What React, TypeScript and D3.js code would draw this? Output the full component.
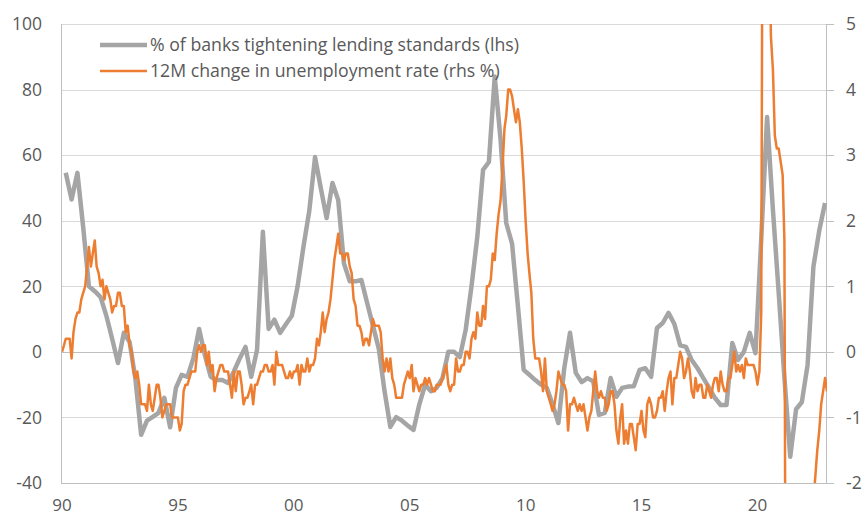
import React from "react";
import * as d3 from "d3";

// ---- DATA ----
// % of banks tightening lending standards (lhs), quarterly, first point Mar 1990
const grayStart = { year: 1990, month: 2 };
const grayValues: number[] = [
  54.6, 46.5, 54.6, 38, 20, 18.5, 16.7, 11, 4, -3.4,
  5.8, 3, -8, -25.3, -21, -19.8, -18.6, -14, -23, -11,
  -7, -7.6, -2, 7, -1, -7.6, -8.6, -8.6, -9.5, -6,
  -2, 1.5, -7.6, 0.6, 36.6, 7, 9.8, 5.8, 8.5, 11,
  20, 32, 43, 59.4, 50, 40.8, 51.5, 46.3, 27, 21.5,
  21.5, 21.9, 15, 8, 1, -12, -22.9, -19.9, -21, -22.5,
  -23.8, -16, -10, -12, -11, -8, 0, 0, -1.6, 6.7,
  20, 35, 55.5, 57.9, 84, 65, 39.3, 33, 14, -5.5,
  -7, -8.6, -10, -11, -16, -21.7, -5, 5.8, -6.4, -9.2,
  -8, -9, -19.2, -18.6, -8, -13.7, -11, -10.6, -10.5, -5.5,
  -5, -7.6, 7.3, 8.8, 11.9, 8.5, 2, 1.5, -2.5, -5,
  -8, -11, -14, -16.2, -16.2, 2.7, -2.5, 0, 5.8, -0.4,
  34.5, 71.6, 43.3, 18, -7.8, -32, -17.5, -15.3, -4, 26,
  37, 45.4,
];

// 12M change in unemployment rate (rhs %), monthly from Jan 1990
const orangeStart = { year: 1990, month: 0 };
const orangeValues: number[] = [
  0.0, 0.1, 0.2, 0.2, 0.2, -0.1, 0.3, 0.5, 0.6, 0.6, 0.8, 0.9,
  1.0, 1.3, 1.6, 1.3, 1.5, 1.7, 1.3, 1.2, 1.0, 1.1, 0.8, 1.0,
  0.9, 0.8, 0.6, 0.7, 0.7, 0.9, 0.9, 0.7, 0.7, 0.3, 0.4, 0.1,
  0.0, -0.3, -0.4, -0.3, -0.5, -0.8, -0.8, -0.8, -0.9, -0.5, -0.8, -0.9,
  -0.7, -0.5, -0.5, -0.7, -1.0, -0.9, -0.8, -0.8, -0.8, -1.0, -1.0, -1.0,
  -1.0, -1.2, -1.1, -0.6, -0.5, -0.5, -0.4, -0.3, -0.3, -0.3, 0.0, 0.1,
  0.0, 0.1, 0.1, -0.2, 0.0, -0.3, -0.2, -0.6, -0.4, -0.3, -0.2, -0.2,
  -0.3, -0.3, -0.3, -0.5, -0.7, -0.3, -0.6, -0.3, -0.3, -0.5, -0.8, -0.7,
  -0.7, -0.6, -0.5, -0.8, -0.5, -0.5, -0.4, -0.3, -0.3, -0.2, -0.2, -0.3,
  -0.3, -0.2, -0.5, 0.0, -0.2, -0.2, -0.2, -0.3, -0.4, -0.4, -0.3, -0.4,
  -0.3, -0.3, -0.2, -0.5, -0.2, -0.3, -0.3, -0.1, -0.3, -0.2, -0.2, -0.1,
  0.2, 0.1, 0.3, 0.6, 0.3, 0.5, 0.6, 0.8, 1.1, 1.4, 1.6, 1.8,
  1.5, 1.5, 1.4, 1.5, 1.5, 1.3, 1.2, 0.8, 0.7, 0.4, 0.4, 0.3,
  0.1, 0.2, 0.2, 0.1, 0.3, 0.5, 0.4, 0.4, 0.4, 0.3, -0.1, -0.3,
  -0.1, -0.3, -0.1, -0.4, -0.5, -0.7, -0.7, -0.7, -0.7, -0.5, -0.4, -0.3,
  -0.4, -0.2, -0.6, -0.4, -0.5, -0.6, -0.5, -0.5, -0.4, -0.5, -0.4, -0.5,
  -0.6, -0.6, -0.5, -0.5, -0.5, -0.4, -0.3, -0.2, -0.5, -0.6, -0.5, -0.5,
  -0.1, -0.3, -0.3, -0.2, -0.2, 0.0, 0.0, -0.1, 0.2, 0.3, 0.2, 0.6,
  0.4, 0.4, 0.7, 0.5, 1.0, 1.0, 1.1, 1.5, 1.4, 1.8, 2.1, 2.3,
  2.8, 3.4, 3.6, 4.0, 4.0, 3.9, 3.7, 3.5, 3.7, 3.5, 3.1, 2.6,
  2.0, 1.5, 1.2, 0.9, 0.2, -0.1, -0.1, -0.1, -0.3, -0.6, -0.1, -0.6,
  -0.7, -0.8, -0.9, -0.8, -0.6, -0.3, -0.4, -0.5, -0.5, -0.6, -1.2, -0.8,
  -0.8, -0.7, -0.8, -0.9, -0.8, -0.9, -0.8, -1.0, -1.2, -1.0, -0.9, -0.6,
  -0.3, -0.6, -0.7, -0.6, -0.7, -0.7, -0.9, -0.8, -0.6, -0.6, -0.8, -1.2,
  -1.4, -1.0, -0.8, -1.4, -1.2, -1.4, -1.1, -1.1, -1.3, -1.5, -1.1, -1.1,
  -0.9, -1.2, -1.3, -0.8, -0.7, -0.8, -1.0, -1.0, -0.9, -0.7, -0.7, -0.6,
  -0.9, -0.6, -0.4, -0.3, -0.8, -0.4, -0.4, -0.2, 0.0, -0.1, -0.4, -0.3,
  -0.1, -0.3, -0.6, -0.7, -0.4, -0.6, -0.5, -0.5, -0.7, -0.7, -0.5, -0.6,
  -0.7, -0.5, -0.4, -0.4, -0.6, -0.3, -0.5, -0.6, -0.6, -0.4, -0.4, -0.2,
  0.0, -0.3, -0.2, -0.3, -0.2, -0.4, -0.1, -0.2, -0.2, -0.2, -0.2, -0.3,
  -0.5, -0.3, 0.6, 11.0, 9.6, 7.4, 6.5, 4.8, 4.3, 3.3, 3.1, 3.1,
  2.9, 2.7, 1.7, -8.6, -7.4, -5.1, -4.8, -3.2, -3.1, -2.4, -2.5, -2.8,
  -2.4, -2.4, -2.5, -2.5, -2.2, -2.3, -1.9, -1.5, -1.2, -0.8, -0.6, -0.4,
  -0.6,
];

const leftTicks = [-40, -20, 0, 20, 40, 60, 80, 100];
const rightTicks = [-2, -1, 0, 1, 2, 3, 4, 5];
const xTickYears = [1990, 1995, 2000, 2005, 2010, 2015, 2020];
const legendLabels = [
  "% of banks tightening lending standards (lhs)",
  "12M change in unemployment rate (rhs %)",
];

// ---- CHART ----
const W = 863;
const H = 516;
const L = 62;
const R = 827;
const T = 24;
const B = 483;
const GRAY = "#a5a5a5";
const ORANGE = "#ed7d31";
const TEXT = "#595959";
const FONT = "'Open Sans', sans-serif";

export default function App() {
  const x = d3
    .scaleTime()
    .domain([new Date(1990, 0, 1), new Date(2023, 0, 1)])
    .range([L, R]);
  const yL = d3.scaleLinear().domain([-40, 100]).range([B, T]);
  const yR = d3.scaleLinear().domain([-2, 5]).range([B, T]);

  const grayData = grayValues.map((v, i) => ({
    d: new Date(grayStart.year, grayStart.month + 3 * i, 1),
    v,
  }));
  const orangeData = orangeValues.map((v, i) => ({
    d: new Date(orangeStart.year, orangeStart.month + i, 1),
    v,
  }));

  const grayLine = d3
    .line<{ d: Date; v: number }>()
    .x((p) => x(p.d))
    .y((p) => yL(p.v));
  const orangeLine = d3
    .line<{ d: Date; v: number }>()
    .x((p) => x(p.d))
    .y((p) => yR(p.v));

  const snap = (v: number) => Math.round(v) + 0.5;

  return (
    <svg
      width={W}
      height={H}
      style={{ position: "absolute", left: 0, top: 0, background: "#fff" }}
      fontFamily={FONT}
    >
      <defs>
        <clipPath id="plot">
          <rect x={L} y={T} width={R - L} height={B - T} />
        </clipPath>
      </defs>
      <rect x={0} y={0} width={W} height={H} fill="#fff" />
      {/* gridlines */}
      {leftTicks.map((t) => (
        <line
          key={"g" + t}
          x1={L}
          x2={R}
          y1={snap(yL(t))}
          y2={snap(yL(t))}
          stroke={t === 0 ? "#bfbfbf" : "#d9d9d9"}
          strokeWidth={1}
        />
      ))}
      {/* axes */}
      <line x1={snap(L - 1)} x2={snap(L - 1)} y1={T} y2={B + 1} stroke="#bfbfbf" />
      <line x1={snap(R - 1)} x2={snap(R - 1)} y1={T} y2={B + 1} stroke="#bfbfbf" />
      <line x1={L} x2={R} y1={snap(B)} y2={snap(B)} stroke="#bfbfbf" />
      {rightTicks.map((t) => (
        <line
          key={"rt" + t}
          x1={R}
          x2={R + 7}
          y1={snap(yR(t))}
          y2={snap(yR(t))}
          stroke="#bfbfbf"
        />
      ))}
      {/* tick labels */}
      {leftTicks.map((t) => (
        <text
          key={"lt" + t}
          x={42}
          y={yL(t)}
          dy="0.36em"
          textAnchor="end"
          fontSize={17.5}
          fill={TEXT}
        >
          {t}
        </text>
      ))}
      {rightTicks.map((t) => (
        <text
          key={"rl" + t}
          x={846}
          y={yR(t)}
          dy="0.36em"
          textAnchor="start"
          fontSize={17.5}
          fill={TEXT}
        >
          {t}
        </text>
      ))}
      {xTickYears.map((yr) => (
        <text
          key={"xt" + yr}
          x={x(new Date(yr, 0, 1))}
          y={511}
          textAnchor="middle"
          fontSize={17}
          fill={TEXT}
        >
          {String(yr).slice(2)}
        </text>
      ))}
      {/* series */}
      <g clipPath="url(#plot)">
        <path
          d={grayLine(grayData) || ""}
          fill="none"
          stroke={GRAY}
          strokeWidth={4.5}
          strokeLinejoin="round"
        />
        <path
          d={orangeLine(orangeData) || ""}
          fill="none"
          stroke={ORANGE}
          strokeWidth={2.5}
          strokeLinejoin="round"
        />
      </g>
      {/* legend */}
      <line x1={100} x2={147} y1={45} y2={45} stroke={GRAY} strokeWidth={4.5} />
      <line x1={100} x2={147} y1={71} y2={71} stroke={ORANGE} strokeWidth={2.5} />
      <text x={150} y={51} fontSize={17.7} fill={TEXT}>
        {legendLabels[0]}
      </text>
      <text x={150} y={77} fontSize={17.7} fill={TEXT}>
        {legendLabels[1]}
      </text>
    </svg>
  );
}
